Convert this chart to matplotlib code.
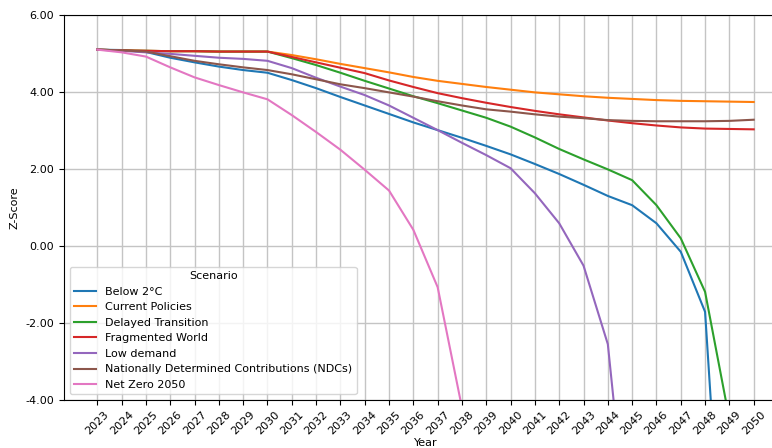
import numpy as np
import matplotlib.pyplot as plt
from matplotlib.ticker import FormatStrFormatter

years = list(range(2023, 2051))
nan = np.nan

below_2c = [5.10, 5.09, 5.04, 4.89, 4.77, 4.66, 4.57, 4.50, 4.31, 4.10, 3.87, 3.65, 3.43, 3.21,
            3.01, 2.81, 2.60, 2.38, 2.13, 1.87, 1.59, 1.30, 1.06, 0.59, -0.15, -1.71, -11.5, nan]
current_policies = [5.10, 5.08, 5.07, 5.06, 5.06, 5.05, 5.05, 5.05, 4.96, 4.85, 4.73, 4.62, 4.51, 4.39,
                    4.29, 4.21, 4.13, 4.06, 3.99, 3.94, 3.89, 3.85, 3.82, 3.79, 3.77, 3.76, 3.75, 3.74]
delayed_transition = [5.10, 5.08, 5.07, 5.06, 5.06, 5.05, 5.05, 5.05, 4.88, 4.70, 4.50, 4.29, 4.09, 3.89,
                      3.71, 3.52, 3.33, 3.10, 2.82, 2.52, 2.25, 1.99, 1.71, 1.06, 0.20, -1.19, -4.5, nan]
fragmented_world = [5.10, 5.08, 5.07, 5.06, 5.06, 5.05, 5.05, 5.05, 4.91, 4.77, 4.63, 4.49, 4.30, 4.13,
                    3.97, 3.84, 3.72, 3.61, 3.51, 3.42, 3.34, 3.26, 3.19, 3.13, 3.08, 3.05, 3.04, 3.03]
low_demand = [5.10, 5.07, 5.03, 4.99, 4.94, 4.89, 4.86, 4.81, 4.62, 4.37, 4.14, 3.92, 3.65, 3.33,
              3.01, 2.68, 2.36, 2.02, 1.37, 0.59, -0.51, -2.55, -8.7, nan, nan, nan, nan, nan]
ndcs = [5.10, 5.08, 5.05, 4.93, 4.81, 4.72, 4.64, 4.57, 4.46, 4.33, 4.20, 4.10, 3.99, 3.88,
        3.76, 3.65, 3.55, 3.49, 3.42, 3.36, 3.32, 3.27, 3.25, 3.24, 3.24, 3.24, 3.25, 3.28]
net_zero = [5.10, 5.03, 4.92, 4.64, 4.38, 4.18, 3.99, 3.81, 3.40, 2.96, 2.50, 1.98, 1.44, 0.42,
            -1.07, -4.2, nan, nan, nan, nan, nan, nan, nan, nan, nan, nan, nan, nan]

scenarios = ["Below 2°C", "Current Policies", "Delayed Transition", "Fragmented World",
             "Low demand", "Nationally Determined Contributions (NDCs)", "Net Zero 2050"]
series = [below_2c, current_policies, delayed_transition, fragmented_world,
          low_demand, ndcs, net_zero]

fs = 8

fig = plt.figure(figsize=(7.72, 4.48), dpi=100)
ax = fig.add_axes([64 / 772, 48 / 448, 723 / 772, 385 / 448])

for name, vals in zip(scenarios, series):
    ax.plot(years, vals, label=name, linewidth=1.5)

ax.set_xlim(2021.63, 2051.37)
ax.set_ylim(-4, 6)
ax.set_xticks(years)
ax.set_xticklabels([str(y) for y in years], rotation=45, fontsize=fs)
ax.set_yticks([-4, -2, 0, 2, 4, 6])
ax.yaxis.set_major_formatter(FormatStrFormatter('%.2f'))
ax.tick_params(axis='y', labelsize=fs)
ax.grid(True, color='#c4c4c4', linewidth=1)
ax.set_axisbelow(True)
ax.set_xlabel("Year", fontsize=fs, labelpad=1)
ax.set_ylabel("Z-Score", fontsize=fs)

ax.legend(title="Scenario", loc='lower left', fontsize=fs, title_fontsize=fs,
          borderaxespad=0.5)

fig.savefig("out.png", dpi=100)
